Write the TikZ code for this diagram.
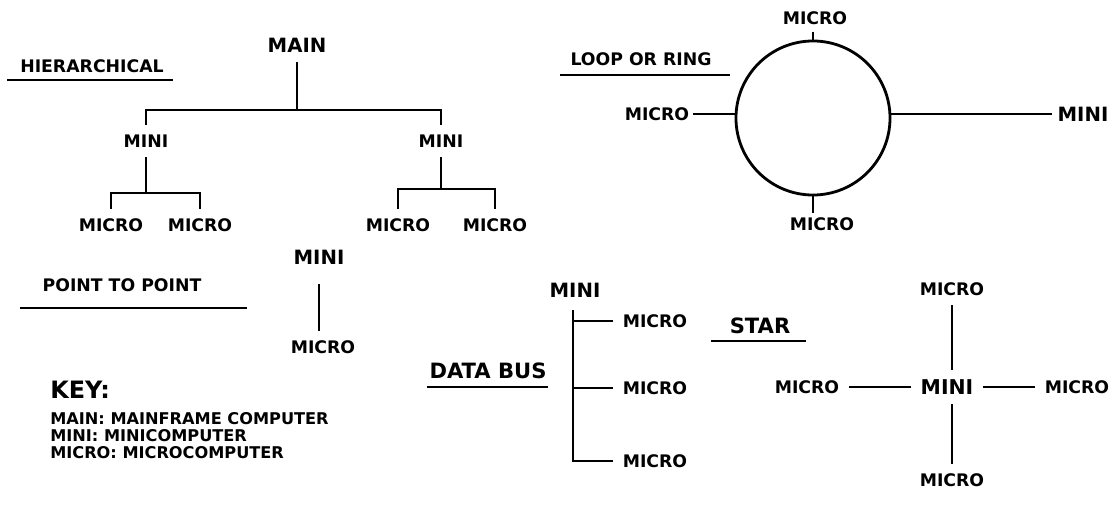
\documentclass[tikz,border=0pt]{standalone}
\usepackage{fontspec}
\setmainfont{DejaVu Sans}
\usepackage{tikz}
\usetikzlibrary{positioning,shapes.geometric}

\begin{document}
\begin{tikzpicture}[
    x=0.025cm, y=-0.025cm,
    wire/.style={line width=2pt},
    lbl/.style={font=\fontsize{12.3}{14}\selectfont\bfseries, inner sep=2pt, outer sep=5pt},
    tag/.style={lbl, outer sep=1pt},
    big/.style={lbl, font=\fontsize{14}{16}\selectfont\bfseries},
    ttl/.style={font=\fontsize{12.3}{14}\selectfont\bfseries, inner sep=0pt},
    keytxt/.style={font=\fontsize{11.5}{12}\selectfont\bfseries, inner sep=0pt, align=left}
  ]
    \useasboundingbox (0,0) rectangle (1118,506);

    % hierarchical
    \node[ttl] (hiertitle) at (92,66) {HIERARCHICAL};
    \draw[wire] (7,80) -- (173,80);
    \node[big] (main) at (297,45) {MAIN};
    \node[lbl] (minil) at (146,141) {MINI};
    \node[lbl] (minir) at (441,141) {MINI};
    \node[lbl] (mll) at (111,225) {MICRO};
    \node[lbl] (mlr) at (200,225) {MICRO};
    \node[lbl] (mrl) at (398,225) {MICRO};
    \node[lbl] (mrr) at (495,225) {MICRO};
    \coordinate (hbar) at (297,110);
    \coordinate (lbar) at (146,193);
    \coordinate (rbar) at (441,189);
    \draw[wire] (main) -- (hbar);
    \draw[wire] (hbar) -| (minil);
    \draw[wire] (hbar) -| (minir);
    \draw[wire] (minil) -- (lbar);
    \draw[wire] (lbar) -| (mll);
    \draw[wire] (lbar) -| (mlr);
    \draw[wire] (minir) -- (rbar);
    \draw[wire] (rbar) -| (mrl);
    \draw[wire] (rbar) -| (mrr);

    % loop or ring
    \node[ttl] (ringtitle) at (641,59) {LOOP OR RING};
    \draw[wire] (560,75) -- (730,75);
    \node[circle, draw, line width=2pt, minimum size=3.85cm, inner sep=0pt] (ring) at (813,118) {};
    \node[tag] (ringtop) at (815,18) {MICRO};
    \node[tag] (ringleft) at (657,114) {MICRO};
    \node[big, outer sep=2pt] (ringright) at (1083,114) {MINI};
    \node[tag] (ringbot) at (822,224) {MICRO};
    \draw[wire, shorten <=2pt] (ringtop.south -| ring.north) -- (ring.north);
    \draw[wire] (ringleft) -- (ringleft -| ring.west);
    \draw[wire] (ringright -| ring.east) -- (ringright);
    \draw[wire] (ring.south) -- (ring.south |- ringbot.north);

    % point to point
    \node[ttl] (pttitle) at (122,285) {POINT TO POINT};
    \draw[wire] (20,308) -- (247,308);
    \node[big, outer sep=12pt] (ptmini) at (319,257) {MINI};
    \node[lbl] (ptmicro) at (323,347) {MICRO};
    \draw[wire] (ptmini.south) -- (ptmini.south |- ptmicro.north);

    % data bus
    \node[ttl, font=\fontsize{15}{17}\selectfont\bfseries] (bustitle) at (488,371) {DATA BUS};
    \draw[wire] (427,387) -- (548,387);
    \node[big] (busmini) at (575,290) {MINI};
    \node[lbl] (bus1) at (655,321) {MICRO};
    \node[lbl] (bus2) at (655,388) {MICRO};
    \node[lbl] (bus3) at (655,461) {MICRO};
    \coordinate (bustop) at (573,310);
    \draw[wire] (bustop) |- (bus3);
    \draw[wire] (bustop |- bus1) -- (bus1);
    \draw[wire] (bustop |- bus2) -- (bus2);

    % star
    \node[ttl, font=\fontsize{15}{17}\selectfont\bfseries] (startitle) at (760,326) {STAR};
    \draw[wire] (711,341) -- (806,341);
    \node[big, font=\fontsize{14.5}{16}\selectfont\bfseries] (starmini) at (947,387) {MINI};
    \node[lbl] (startop) at (952,289) {MICRO};
    \node[lbl] (starbot) at (952,480) {MICRO};
    \node[lbl] (starleft) at (807,387) {MICRO};
    \node[lbl] (starright) at (1077,387) {MICRO};
    \draw[wire] (startop.south) -- (startop.south |- starmini.north);
    \draw[wire] (starbot.north |- starmini.south) -- (starbot.north);
    \draw[wire] (starleft) -- (starmini);
    \draw[wire] (starmini) -- (starright);

    % key
    \node[keytxt, anchor=west, font=\fontsize{17}{19}\selectfont\bfseries] (keyhead) at (50,390) {KEY:};
    \node[keytxt, anchor=north west] (keylist) at (50,412) {MAIN: MAINFRAME COMPUTER\\MINI: MINICOMPUTER\\MICRO: MICROCOMPUTER};
  \end{tikzpicture}
\end{document}
